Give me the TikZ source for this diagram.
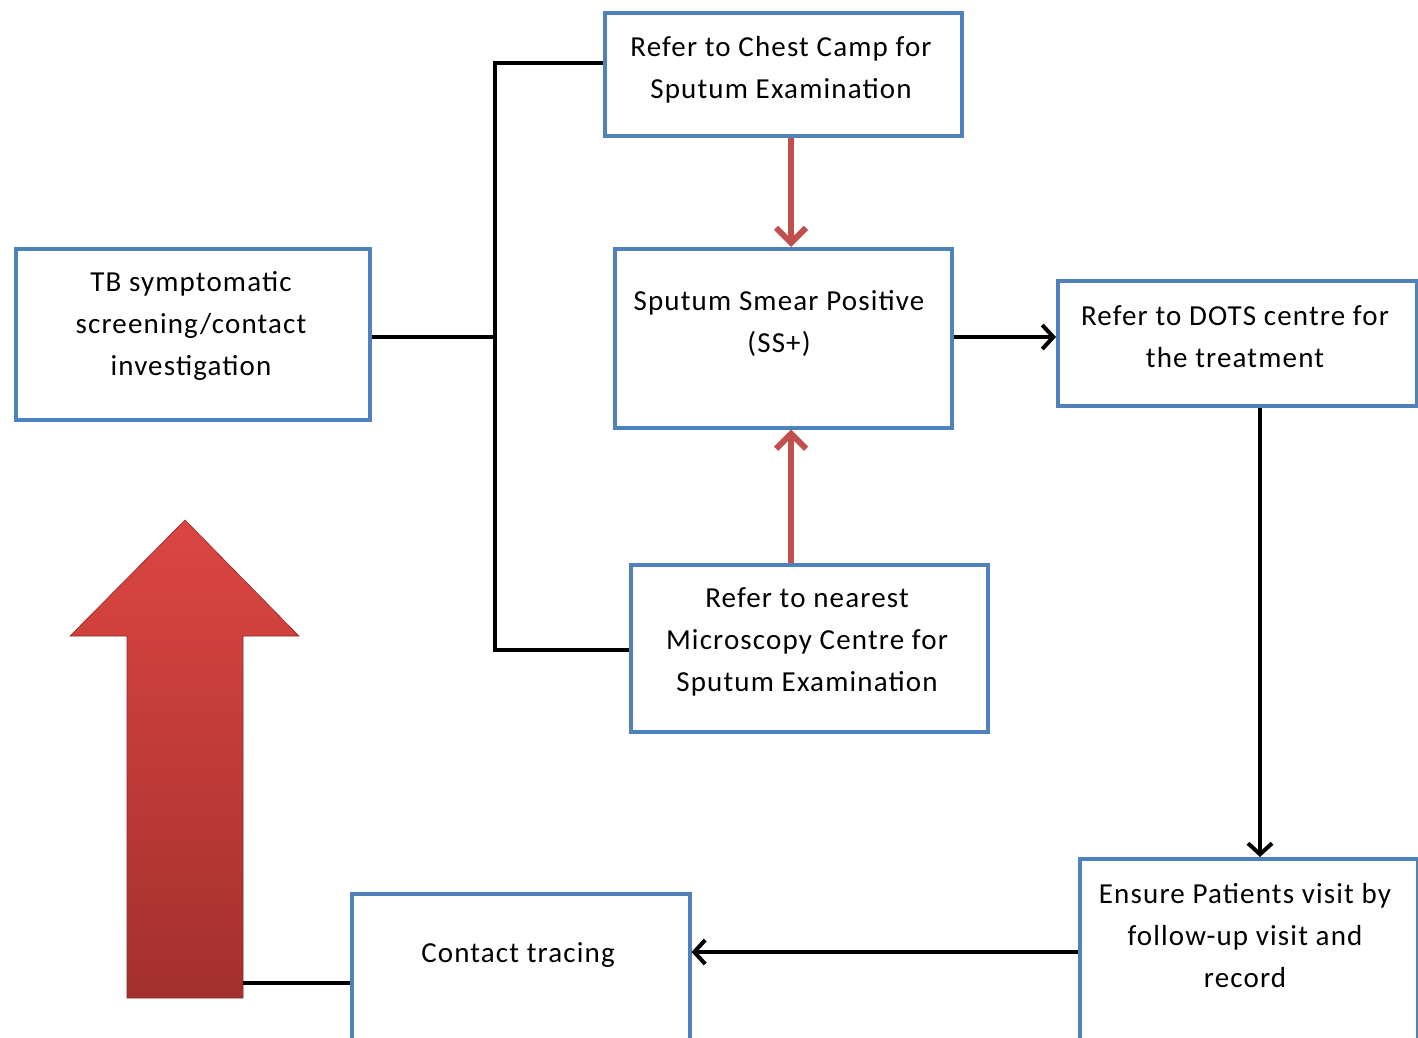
\documentclass[tikz,border=0pt]{standalone}
\usepackage{fontspec}
\setmainfont{Carlito}[LetterSpace=4]
\usetikzlibrary{arrows.meta}
\definecolor{boxblue}{HTML}{4F81BD}
\definecolor{redline}{HTML}{C0504D}
\definecolor{arrowtop}{HTML}{DC4642}
\definecolor{arrowbot}{HTML}{A3302E}
\begin{document}
\begin{tikzpicture}[x=1pt,y=-1pt,
  box/.style={draw=boxblue, line width=3.5pt, inner sep=0pt, anchor=north west, fill=white},
  txt/.style={align=center, font=\fontsize{29}{42}\selectfont, inner sep=0pt},
  conn/.style={line width=4pt, draw=black},
  blkarrow/.style={conn, -{Straight Barb[length=11pt,width=24pt]}},
  redarrow/.style={line width=6pt, draw=redline, -{Straight Barb[length=15pt,width=30pt]}}
]
\useasboundingbox (0,0) rectangle (1418,1037);
\clip (0,0) rectangle (1418,1037);
\fill[white] (0,0) rectangle (1418,1037);

% boxes
\node[box, minimum width=354pt, minimum height=171pt] (tb) at (14,247) {};
\node[box, minimum width=357pt, minimum height=123pt] (chest) at (603,11) {};
\node[box, minimum width=337pt, minimum height=179pt] (ss) at (613,247) {};
\node[box, minimum width=359pt, minimum height=125pt] (dots) at (1056,279) {};
\node[box, minimum width=357pt, minimum height=167pt] (micro) at (629,563) {};
\node[box, minimum width=338pt, minimum height=223pt] (ensure) at (1078,857) {};
\node[box, minimum width=338pt, minimum height=188pt] (ct) at (350,892) {};

% texts
\node[txt] (tbt) at (191,326) {TB symptomatic\\screening/contact\\investigation};
\node[txt] (chestt) at (781,70) {Refer to Chest Camp for\\Sputum Examination};
\node[txt] (sst) at (779,323) {Sputum Smear Positive\\(SS+)};
\node[txt] (dotst) at (1235,337) {Refer to DOTS centre for\\the treatment};
\node[txt] (microt) at (807,642) {Refer to nearest\\Microscopy Centre for\\Sputum Examination};
\node[txt] (ensuret) at (1245,936) {Ensure Patients visit by\\follow-up visit and\\record};
\node[txt] (ctt) at (518,955) {Contact tracing};

% big red arrow
\shade[top color=arrowtop, bottom color=arrowbot, draw=arrowbot!85!black, line width=0.6pt]
  (127,998) -- (127,636) -- (70,636) -- (185,520) -- (299,636) -- (243,636) -- (243,998) -- cycle;
\coordinate (big) at (243,983);

% helper coordinates
\coordinate (bus) at (495,337);
\coordinate (bt) at (495,63);
\coordinate (bb) at (495,650);
\coordinate (rx) at (791,0);
\coordinate (dx) at (1260,0);
\coordinate (hy) at (0,952);

% connectors
\draw[conn] (tb.east |- bus) -- (bus);
\draw[conn] (bt -| chest.west) -- (bt) -- (bb) -- (bb -| micro.west);
\draw[redarrow] (chest.south -| rx) -- (ss.north -| rx);
\draw[redarrow] (micro.north -| rx) -- (ss.south -| rx);
\draw[blkarrow] (ss.east |- bus) -- (dots.west |- bus);
\draw[blkarrow] (dots.south -| dx) -- (ensure.north -| dx);
\draw[blkarrow] (ensure.west |- hy) -- (ct.east |- hy);
\draw[conn] (ct.west |- big) -- (big);
\end{tikzpicture}
\end{document}
